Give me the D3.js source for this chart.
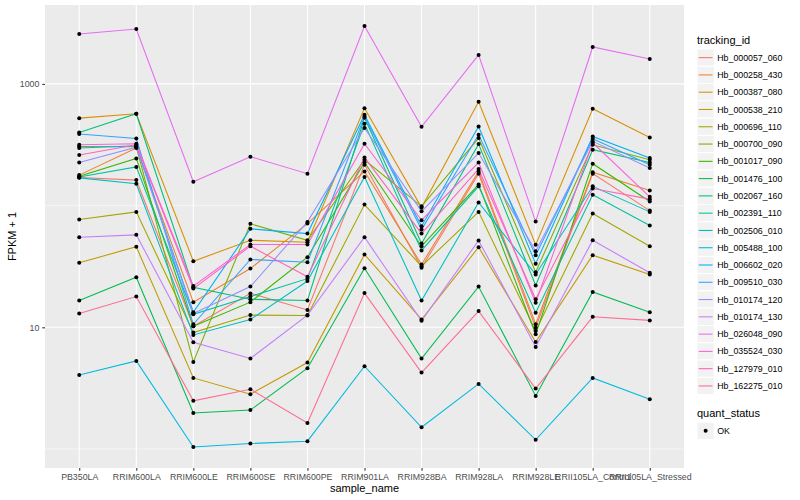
<!DOCTYPE html>
<html>
<head>
<meta charset="utf-8">
<script src="https://cdn.jsdelivr.net/npm/d3@7"></script>
<style>
  body { margin: 0; background: #fff; }
  text { font-family: "Liberation Sans", Arial, sans-serif; }
</style>
</head>
<body>
<div id="chart"></div>
<script>
// sample order on the x axis
const samples = ["PB350LA", "RRIM600LA", "RRIM600LE", "RRIM600SE", "RRIM600PE", "RRIM901LA",
  "RRIM928BA", "RRIM928LA", "RRIM928LE", "RRII105LA_Control", "RRII105LA_Stressed"]

// FPKM + 1 per gene, in sample order
const Hb_000057_060 = [170, 162, 10.2, 19.0, 13.9, 217, 30.9, 183, 9.94, 183, 91.0]
const Hb_000258_430 = [178, 297, 16.1, 30.4, 71.2, 191, 32.8, 191, 10.6, 188, 133]
const Hb_000387_080 = [523, 568, 34.9, 51.9, 50.0, 632, 96.3, 712, 47.6, 624, 363]
const Hb_000538_210 = [33.9, 45.9, 3.84, 2.82, 5.14, 39.7, 11.6, 45.5, 7.58, 39.1, 27.2]
const Hb_000696_110 = [76.8, 88.8, 9.05, 12.6, 12.5, 102, 31.8, 88.8, 9.33, 86.0, 46.4]
const Hb_000700_090 = [306, 304, 5.20, 70.8, 51.9, 238, 98.7, 359, 28.4, 316, 238]
const Hb_001017_090 = [174, 244, 10.2, 16.1, 37.7, 226, 46.4, 149, 8.76, 221, 108]
const Hb_001476_100 = [16.6, 25.8, 1.98, 2.09, 4.61, 30.6, 5.54, 21.6, 2.73, 19.5, 13.3]
const Hb_002067_160 = [399, 568, 21.3, 17.0, 16.6, 526, 48.8, 320, 22.1, 288, 226]
const Hb_002391_110 = [172, 208, 12.8, 17.9, 25.1, 470, 42.8, 144, 13.2, 123, 68.6]
const Hb_002506_010 = [169, 151, 8.65, 11.6, 24.0, 172, 16.6, 106, 27.2, 144, 88.8]
const Hb_005488_100 = [4.06, 5.29, 1.04, 1.11, 1.16, 4.79, 1.51, 3.43, 1.19, 3.84, 2.56]
const Hb_006602_020 = [297, 310, 13.3, 64.4, 58.9, 557, 67.7, 447, 33.3, 370, 246]
const Hb_009510_030 = [387, 356, 10.6, 36.1, 34.3, 540, 63.6, 382, 39.1, 354, 217]
const Hb_010174_120 = [226, 302, 13.0, 21.6, 73.5, 434, 89.8, 270, 42.2, 337, 204]
const Hb_010174_130 = [55.0, 57.5, 7.54, 5.54, 12.6, 55.0, 11.3, 51.7, 6.90, 51.9, 28.1]
const Hb_026048_090 = [2570, 2825, 157, 252, 183, 2987, 444, 1729, 73.9, 2011, 1603]
const Hb_035524_030 = [316, 322, 21.8, 47.9, 47.9, 322, 75.8, 226, 15.9, 328, 118]
const Hb_127979_010 = [260, 316, 20.8, 46.4, 26.0, 249, 58.9, 200, 17.0, 138, 113]
const Hb_162275_010 = [13.0, 17.9, 2.49, 3.10, 1.64, 19.1, 4.25, 13.6, 3.14, 12.2, 11.4]

const trackingIds = ["Hb_000057_060", "Hb_000258_430", "Hb_000387_080", "Hb_000538_210", "Hb_000696_110",
  "Hb_000700_090", "Hb_001017_090", "Hb_001476_100", "Hb_002067_160", "Hb_002391_110", "Hb_002506_010",
  "Hb_005488_100", "Hb_006602_020", "Hb_009510_030", "Hb_010174_120", "Hb_010174_130", "Hb_026048_090",
  "Hb_035524_030", "Hb_127979_010", "Hb_162275_010"]
const seriesValues = [Hb_000057_060, Hb_000258_430, Hb_000387_080, Hb_000538_210, Hb_000696_110,
  Hb_000700_090, Hb_001017_090, Hb_001476_100, Hb_002067_160, Hb_002391_110, Hb_002506_010,
  Hb_005488_100, Hb_006602_020, Hb_009510_030, Hb_010174_120, Hb_010174_130, Hb_026048_090,
  Hb_035524_030, Hb_127979_010, Hb_162275_010]

const yMajor = [10, 1000]
const yMinor = [1, 100]
const statusLabels = ["OK"]

// ggplot hue palette for 20 groups
const hues = ["#F8766D", "#EA8331", "#D89000", "#C09B00", "#A3A500", "#7CAE00", "#39B600", "#00BB4E",
  "#00BF7D", "#00C1A3", "#00BFC4", "#00BAE0", "#00B0F6", "#35A2FF", "#9590FF", "#C77CFF",
  "#E76BF3", "#FA62DB", "#FF62BC", "#FF6C91"]

let series = trackingIds.map((id, i) => ({
  id: id,
  color: hues[i],
  points: seriesValues[i].map((v, j) => ({ sample: samples[j], value: v }))
}))

let width = 800, height = 500
let panel = { left: 45, right: 684, top: 5, bottom: 468 }

let x = d3.scalePoint()
  .domain(samples)
  .range([panel.left, panel.right])
  .padding(0.6)

// log scale with ggplot's 5% expansion
let all = seriesValues.flat()
let lo = Math.log10(d3.min(all)), hi = Math.log10(d3.max(all))
let pad = (hi - lo) * 0.05
let y = d3.scaleLog()
  .domain([Math.pow(10, lo - pad), Math.pow(10, hi + pad)])
  .range([panel.bottom, panel.top])

let svg = d3.select('#chart').append('svg')
  .attr('width', width)
  .attr('height', height)

svg.append('rect')
  .attr('x', panel.left).attr('y', panel.top)
  .attr('width', panel.right - panel.left)
  .attr('height', panel.bottom - panel.top)
  .attr('fill', '#EBEBEB')

// grid
svg.append('g').selectAll('line')
  .data(yMinor)
  .enter().append('line')
    .attr('x1', panel.left).attr('x2', panel.right)
    .attr('y1', d => y(d)).attr('y2', d => y(d))
    .attr('stroke', '#fff').attr('stroke-width', 0.53)
svg.append('g').selectAll('line')
  .data(yMajor)
  .enter().append('line')
    .attr('x1', panel.left).attr('x2', panel.right)
    .attr('y1', d => y(d)).attr('y2', d => y(d))
    .attr('stroke', '#fff').attr('stroke-width', 1.07)
svg.append('g').selectAll('line')
  .data(samples)
  .enter().append('line')
    .attr('x1', d => x(d)).attr('x2', d => x(d))
    .attr('y1', panel.top).attr('y2', panel.bottom)
    .attr('stroke', '#fff').attr('stroke-width', 1.07)

// lines
let line = d3.line()
  .x(d => x(d.sample))
  .y(d => y(d.value))

svg.append('g').selectAll('path')
  .data(series)
  .enter().append('path')
    .attr('d', d => line(d.points))
    .attr('fill', 'none')
    .attr('stroke', d => d.color)
    .attr('stroke-width', 1.07)

// points
svg.append('g').selectAll('circle')
  .data(series.flatMap(s => s.points))
  .enter().append('circle')
    .attr('cx', d => x(d.sample))
    .attr('cy', d => y(d.value))
    .attr('r', 2)
    .attr('fill', '#000')

// axes
let xAxis = svg.append('g')
  .attr('transform', `translate(0,${panel.bottom})`)
  .call(d3.axisBottom(x).tickSize(2.74).tickPadding(3.5))
let yAxis = svg.append('g')
  .attr('transform', `translate(${panel.left},0)`)
  .call(d3.axisLeft(y).tickValues(yMajor).tickFormat(d3.format('d')).tickSize(2.74).tickPadding(2.9))

;[xAxis, yAxis].forEach(a => {
  a.select('.domain').remove()
  a.selectAll('.tick line').attr('stroke', '#333333').attr('stroke-width', 1.07)
  a.selectAll('.tick text')
    .attr('fill', '#4D4D4D')
    .style('font-size', '8.8px')
    .style('font-family', '"Liberation Sans", Arial, sans-serif')
})

svg.append('text')
  .attr('x', (panel.left + panel.right) / 2)
  .attr('y', 492)
  .attr('text-anchor', 'middle')
  .style('font-size', '11px')
  .text('sample_name')

svg.append('text')
  .attr('transform', `translate(16,${(panel.top + panel.bottom) / 2}) rotate(-90)`)
  .attr('text-anchor', 'middle')
  .style('font-size', '11px')
  .text('FPKM + 1')

// legend: tracking_id
let keySize = 17.28
let legX = 697
let leg = svg.append('g')
leg.append('text')
  .attr('x', legX).attr('y', 44)
  .style('font-size', '11px')
  .text('tracking_id')

let keys = leg.selectAll('g.key')
  .data(series)
  .enter().append('g')
    .attr('class', 'key')
    .attr('transform', (d, i) => `translate(${legX},${49 + i * keySize})`)
keys.append('rect')
  .attr('width', keySize).attr('height', keySize)
  .attr('fill', '#F2F2F2').attr('stroke', '#fff').attr('stroke-width', 1)
keys.append('line')
  .attr('x1', 1.7).attr('x2', keySize - 1.7)
  .attr('y1', keySize / 2).attr('y2', keySize / 2)
  .attr('stroke', d => d.color).attr('stroke-width', 1.07)
keys.append('text')
  .attr('x', keySize + 3).attr('y', keySize / 2 + 3.1)
  .style('font-size', '8.8px')
  .text(d => d.id)

// legend: quant_status
let q0 = 49 + 20 * keySize + 11
leg.append('text')
  .attr('x', legX).attr('y', q0 + 11.5)
  .style('font-size', '11px')
  .text('quant_status')
let qk = leg.selectAll('g.qkey')
  .data(statusLabels)
  .enter().append('g')
    .attr('class', 'qkey')
    .attr('transform', (d, i) => `translate(${legX},${q0 + 16.5 + i * keySize})`)
qk.append('rect')
  .attr('width', keySize).attr('height', keySize)
  .attr('fill', '#F2F2F2').attr('stroke', '#fff').attr('stroke-width', 1)
qk.append('circle')
  .attr('cx', keySize / 2).attr('cy', keySize / 2).attr('r', 2)
  .attr('fill', '#000')
qk.append('text')
  .attr('x', keySize + 3).attr('y', keySize / 2 + 3.1)
  .style('font-size', '8.8px')
  .text(d => d)
</script>
</body>
</html>
